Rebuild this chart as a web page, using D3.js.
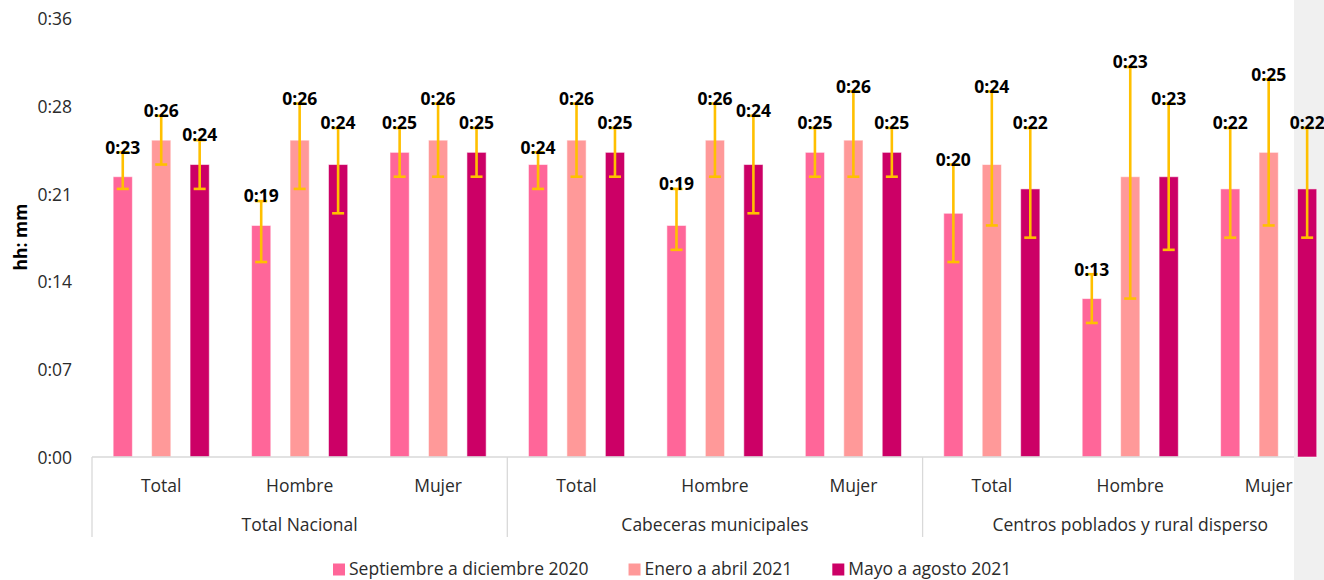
<!DOCTYPE html>
<html lang="es">
<head>
<meta charset="utf-8">
<script src="https://cdn.jsdelivr.net/npm/d3@7"></script>
<style>
  html, body { margin: 0; padding: 0; background: #ffffff; }
  svg { display: block; font-family: "Open Sans", "Noto Sans", sans-serif; }
</style>
</head>
<body>
<svg id="chart" width="1324" height="580"></svg>
<script>
// Groups, sub-categories and periods
const groups = ["Total Nacional", "Cabeceras municipales", "Centros poblados y rural disperso"];
const subgroups = ["Total", "Hombre", "Mujer"];
const series = ["Septiembre a diciembre 2020", "Enero a abril 2021", "Mayo a agosto 2021"];

// Average time in minutes (one value per group × sub-category)
const sep2020 = [23, 19, 25, 24, 19, 25, 20, 13, 22];
const eneAbr2021 = [26, 26, 26, 26, 26, 26, 24, 23, 25];
const mayAgo2021 = [24, 24, 25, 25, 24, 25, 22, 23, 22];

// Confidence interval bounds in minutes
const sep2020Low = [22, 16, 23, 22, 17, 23, 16, 11, 18];
const sep2020High = [25, 21, 27, 25, 22, 27, 24, 15, 27];
const eneAbr2021Low = [24, 22, 23, 23, 23, 23, 19, 13, 19];
const eneAbr2021High = [28, 29, 29, 29, 29, 30, 30, 32, 31];
const mayAgo2021Low = [22, 20, 23, 23, 20, 23, 18, 17, 18];
const mayAgo2021High = [26, 27, 27, 27, 28, 27, 27, 29, 27];

// Y axis ticks (minutes) and their hh:mm labels
const yTicks = [0, 7.2, 14.4, 21.6, 28.8, 36];
const yTickLabels = ["0:00", "0:07", "0:14", "0:21", "0:28", "0:36"];

const colors = ["#FF6699", "#FF9999", "#CC0066"];
const errColor = "#FFC000";

const valuesBySeries = [sep2020, eneAbr2021, mayAgo2021];
const lowBySeries = [sep2020Low, eneAbr2021Low, mayAgo2021Low];
const highBySeries = [sep2020High, eneAbr2021High, mayAgo2021High];

const fmt = m => "0:" + String(Math.round(m)).padStart(2, "0");

const svg = d3.select("#chart");
const W = 1324, H = 580;
const plot = { left: 92, top: 18.3, bottom: 457 };
const groupWidth = 415.3;
const visibleRight = 1294;

// Backdrop: white sheet with the grey margin on the right
svg.append("rect").attr("width", W).attr("height", H).attr("fill", "#ffffff");
svg.append("rect").attr("x", visibleRight).attr("width", W - visibleRight).attr("height", H).attr("fill", "#f0f0f0");

// Category keys for every group × sub-category
const cats = [];
groups.forEach((g, gi) => subgroups.forEach((s, si) => cats.push({ key: gi + "-" + si, group: g, sub: s, gi, si })));

const x0 = d3.scaleBand()
  .domain(cats.map(c => c.key))
  .range([plot.left, plot.left + groupWidth * groups.length])
  .padding(0);

const x1 = d3.scaleBand()
  .domain(series)
  .range([0, x0.bandwidth()])
  .paddingInner(0.5)
  .paddingOuter(0.55);

const y = d3.scaleLinear().domain([0, 36]).range([plot.bottom, plot.top]);

const textColor = "#2b2b2b";

// Y axis (labels only)
const yAxis = d3.axisLeft(y)
  .tickValues(yTicks)
  .tickFormat((d, i) => yTickLabels[i])
  .tickSize(0)
  .tickPadding(0);
const gy = svg.append("g").attr("transform", "translate(72,0)").call(yAxis);
gy.select(".domain").remove();
gy.selectAll("text")
  .attr("fill", textColor)
  .style("font-family", "'Open Sans', sans-serif")
  .style("font-size", "17.5px")
  .attr("dy", "0.36em");

// Y axis title
svg.append("text")
  .attr("transform", "translate(27,237) rotate(-90)")
  .attr("text-anchor", "middle")
  .attr("fill", "#000")
  .style("font-size", "17.5px")
  .style("font-weight", "700")
  .text("hh: mm");

// Bars
const barData = [];
cats.forEach((c, ci) => {
  series.forEach((s, k) => {
    barData.push({
      cat: c, series: s, k,
      value: valuesBySeries[k][ci],
      low: lowBySeries[k][ci],
      high: highBySeries[k][ci]
    });
  });
});

const bars = svg.append("g");
bars.selectAll("rect")
  .data(barData)
  .join("rect")
  .attr("x", d => x0(d.cat.key) + x1(d.series))
  .attr("y", d => y(d.value))
  .attr("width", x1.bandwidth())
  .attr("height", d => y(0) - y(d.value))
  .attr("fill", d => colors[d.k])
  .attr("stroke", "rgba(255,255,255,0.55)")
  .attr("stroke-width", 1);

// Category axis line and group separators
svg.append("line")
  .attr("x1", plot.left).attr("x2", visibleRight)
  .attr("y1", plot.bottom).attr("y2", plot.bottom)
  .attr("stroke", "#d9d9d9").attr("stroke-width", 1.3);

const seps = d3.range(groups.length + 1).map(i => plot.left + groupWidth * i);
svg.append("g").selectAll("line")
  .data(seps)
  .join("line")
  .attr("x1", d => d).attr("x2", d => d)
  .attr("y1", plot.bottom).attr("y2", 537)
  .attr("stroke", "#d9d9d9").attr("stroke-width", 1.3);

// Error bars
const cap = 12;
const err = svg.append("g").attr("stroke", errColor).attr("stroke-width", 2.6).attr("fill", "none");
barData.forEach(d => {
  const cx = x0(d.cat.key) + x1(d.series) + x1.bandwidth() / 2;
  err.append("line").attr("x1", cx).attr("x2", cx).attr("y1", y(d.high)).attr("y2", y(d.low));
  err.append("line").attr("x1", cx - cap / 2).attr("x2", cx + cap / 2).attr("y1", y(d.high)).attr("y2", y(d.high));
  err.append("line").attr("x1", cx - cap / 2).attr("x2", cx + cap / 2).attr("y1", y(d.low)).attr("y2", y(d.low));
});

// Value labels above the interval
svg.append("g").selectAll("text")
  .data(barData)
  .join("text")
  .attr("x", d => x0(d.cat.key) + x1(d.series) + x1.bandwidth() / 2)
  .attr("y", d => y(d.high) - 5)
  .attr("dy", "0.36em")
  .attr("text-anchor", "middle")
  .attr("fill", "#000")
  .style("font-size", "17.5px")
  .style("font-weight", "700")
  .text(d => fmt(d.value));

// Sub-category labels
svg.append("g").selectAll("text")
  .data(cats)
  .join("text")
  .attr("x", d => x0(d.key) + x0.bandwidth() / 2)
  .attr("y", 491.5)
  .attr("text-anchor", "middle")
  .attr("fill", textColor)
  .style("font-size", "17.5px")
  .text(d => d.sub);

// Group labels
svg.append("g").selectAll("text")
  .data(groups)
  .join("text")
  .attr("x", (d, i) => plot.left + groupWidth * (i + 0.5))
  .attr("y", 531)
  .attr("text-anchor", "middle")
  .attr("fill", textColor)
  .style("font-size", "17.5px")
  .text(d => d);

// Legend
const legend = svg.append("g");
let lx = 333;
series.forEach((s, k) => {
  legend.append("rect")
    .attr("x", lx).attr("y", 563.5).attr("width", 12).attr("height", 12)
    .attr("fill", colors[k]);
  const t = legend.append("text")
    .attr("x", lx + 16).attr("y", 575)
    .attr("fill", textColor)
    .style("font-size", "17.5px")
    .text(s);
  lx += 16 + t.node().getComputedTextLength() + 40;
});
</script>
</body>
</html>
